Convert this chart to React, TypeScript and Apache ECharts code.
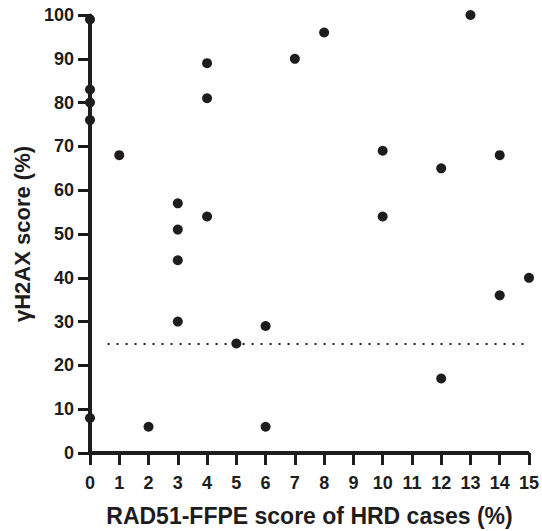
import React, { useEffect, useRef } from "react";
import * as echarts from "echarts";

const xValues = [0, 0, 0, 0, 0, 1, 2, 3, 3, 3, 3, 4, 4, 4, 5, 6, 6, 7, 8, 10, 10, 12, 12, 13, 14, 14, 15];
const yValues = [99, 83, 80, 76, 8, 68, 6, 57, 51, 44, 30, 89, 81, 54, 25, 29, 6, 90, 96, 69, 54, 65, 17, 100, 68, 36, 40];
const thresholdY = 25;
const thresholdXStart = 0.6;
const thresholdXEnd = 15;
const xTitle = "RAD51-FFPE score of HRD cases (%)";
const yTitle = "γH2AX score (%)";

const INK = "#1e1c1d";
const X_INK = "#201d1f";
const Y_INK = "#1c1b1c";
const FONT = "'Liberation Sans', Arial, sans-serif";

export default function App() {
  const ref = useRef<HTMLDivElement>(null);
  useEffect(() => {
    if (!ref.current) return;
    const chart = echarts.init(ref.current, undefined, { renderer: "svg" });
    const data = xValues.map((x, i) => [x, yValues[i]]);
    chart.setOption({
      animation: false,
      backgroundColor: "#ffffff",
      grid: { left: 90, right: 13, top: 15, bottom: 78, containLabel: false, outerBoundsMode: "none" },
      xAxis: {
        type: "value",
        min: 0,
        max: 15,
        interval: 1,
        name: xTitle,
        nameLocation: "middle",
        nameGap: 51,
        nameMoveOverlap: false,
        nameTextStyle: { fontFamily: FONT, fontWeight: "bold", fontSize: 23, color: INK },
        axisLine: { show: true, onZero: false, lineStyle: { color: X_INK, width: 3 } },
        axisTick: { show: true, length: 12, lineStyle: { color: X_INK, width: 3 } },
        axisLabel: { fontFamily: FONT, fontWeight: "bold", fontSize: 18, color: INK, margin: 21 },
        splitLine: { show: false },
      },
      yAxis: {
        type: "value",
        min: 0,
        max: 100,
        interval: 10,
        name: yTitle,
        nameLocation: "middle",
        nameGap: 57,
        nameMoveOverlap: false,
        nameRotate: 90,
        nameTextStyle: { fontFamily: FONT, fontWeight: "bold", fontSize: 22, color: INK },
        axisLine: { show: true, lineStyle: { color: Y_INK, width: 3 } },
        axisTick: { show: true, length: 12, lineStyle: { color: Y_INK, width: 3 } },
        axisLabel: { fontFamily: FONT, fontWeight: "bold", fontSize: 18, color: INK, margin: 16 },
        splitLine: { show: false },
      },
      series: [
        {
          type: "scatter",
          data,
          symbol: "circle",
          symbolSize: 10,
          itemStyle: { color: INK, opacity: 1 },
          z: 5,
          markLine: {
            silent: true,
            symbol: ["none", "none"],
            label: { show: false },
            lineStyle: { color: INK, width: 2, type: [2, 7], opacity: 1 },
            data: [
              [
                { coord: [thresholdXStart, thresholdY] },
                { coord: [thresholdXEnd, thresholdY] },
              ],
              { xAxis: 0, lineStyle: { color: INK, width: 4, type: "solid", opacity: 1 } },
              { yAxis: 0, lineStyle: { color: INK, width: 4, type: "solid", opacity: 1 } },
            ],
          },
        },
      ],
    });
    return () => chart.dispose();
  }, []);
  return <div ref={ref} style={{ width: 542, height: 531, position: "absolute", left: 0, top: 0 }} />;
}
